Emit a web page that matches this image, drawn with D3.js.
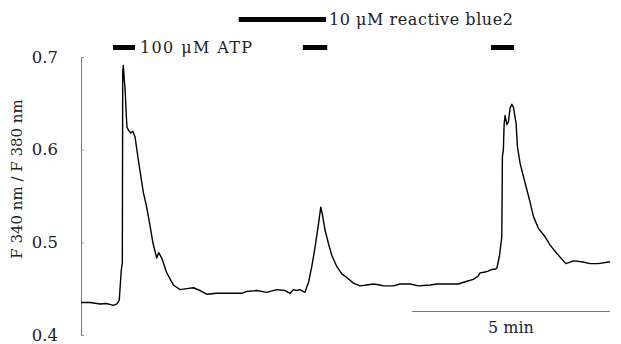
<!DOCTYPE html>
<html>
<head>
<meta charset="utf-8">
<script src="https://cdn.jsdelivr.net/npm/d3@7"></script>
<style>
  body { margin: 0; background: white; }
  svg { display: block; }
  text { font-family: "DejaVu Serif", "Liberation Serif", serif; fill: #222; }
</style>
</head>
<body>
<div id="chart"></div>
<script>
"use strict";

// trace: time (s) and F340/F380 ratio
var times = [0, 14, 29, 38, 44, 48.5, 54.5, 58, 61, 62.6, 63.2, 64.1, 65.6, 66.7, 68.6, 69.7, 72, 75.3, 78.3, 81.8,
    86.4, 94.4, 99.5, 104.5, 109.1, 114.7, 117.7, 122.3, 129.9, 139.9, 150, 160.2, 170.2, 180.3, 190.5, 205.6,
    225.8, 243.5, 251.1, 266.2, 281.4, 296.5, 309.1, 316.7, 321.7, 326.8, 331.8, 336.4, 339.4, 342, 344.4,
    349.6, 354.6, 359.6, 363.2, 365.7, 369.7, 374.7, 379.9, 387.4, 395, 402.6, 412.6, 422.7, 432.9, 442.9,
    453, 458, 473.2, 483.3, 498.5, 511, 528.8, 538.9, 571.7, 584.4, 594.4, 602, 604.5, 612.1, 616.7, 619.7,
    624.2, 627.3, 629.8, 633.8, 637.4, 638.3, 639.8, 640.9, 642.4, 645, 647.4, 650, 652.6, 655, 659.1, 661.1,
    665.2, 672.7, 679.3, 685.3, 692.9, 703, 710.6, 720.8, 734.4, 745.9, 758.6, 771.2, 783.8, 801.3];
var ratios = [0.435, 0.435, 0.4335, 0.434, 0.433, 0.432, 0.4335, 0.438, 0.470, 0.478, 0.684, 0.691, 0.675, 0.667,
    0.637, 0.624, 0.621, 0.618, 0.620, 0.614, 0.591, 0.554, 0.538, 0.518, 0.499, 0.483, 0.489, 0.483, 0.467,
    0.454, 0.449, 0.450, 0.451, 0.448, 0.444, 0.445, 0.445, 0.445, 0.447, 0.448, 0.446, 0.449, 0.448, 0.445,
    0.449, 0.448, 0.449, 0.447, 0.446, 0.452, 0.456, 0.474, 0.495, 0.519, 0.538, 0.530, 0.513, 0.499, 0.486,
    0.474, 0.466, 0.462, 0.456, 0.453, 0.454, 0.455, 0.454, 0.453, 0.453, 0.455, 0.455, 0.453, 0.454, 0.455,
    0.455, 0.458, 0.460, 0.464, 0.467, 0.468, 0.469, 0.470, 0.471, 0.471, 0.472, 0.485, 0.506, 0.592, 0.600,
    0.627, 0.637, 0.627, 0.630, 0.645, 0.649, 0.646, 0.628, 0.603, 0.585, 0.564, 0.546, 0.528, 0.515, 0.506,
    0.497, 0.488, 0.477, 0.480, 0.479, 0.477, 0.477, 0.479];

var yTicks = [0.4, 0.5, 0.6, 0.7];
var atpBars = [[48.5, 81.8], [336, 373], [621, 656]];   // application periods (s)
var rbBar = [239, 371];
var atpLabel = "100 \u03bcM ATP";
var rbLabel = "10 \u03bcM reactive blue2";
var yTitle = "F 340 nm / F 380 nm";
var scaleSeconds = 300, scaleLabel = "5 min";

var width = 621, height = 344;
var margin = {left: 81, top: 57, right: 11, bottom: 9};

var svg = d3.select("#chart").append("svg")
    .attr("width", width)
    .attr("height", height);

var x = d3.scaleLinear()
    .domain([0, 801.3])
    .range([margin.left, width - margin.right]);
var y = d3.scaleLinear()
    .domain([0.4, 0.7])
    .range([height - margin.bottom, margin.top]);

var yAxis = svg.append("g")
    .attr("transform", "translate(" + margin.left + ",0)")
    .call(d3.axisLeft(y).tickValues(yTicks).tickFormat(d3.format(".1f")).tickSize(-3).tickPadding(23));
yAxis.select(".domain").attr("stroke", "#777");
yAxis.selectAll(".tick line").attr("stroke", "#999");
yAxis.selectAll(".tick text")
    .style("font-family", "DejaVu Serif, serif")
    .style("font-size", "16.5px")
    .attr("fill", "#333");

svg.append("text")
    .attr("transform", "translate(22,179) rotate(-90)")
    .attr("text-anchor", "middle")
    .style("font-size", "15px")
    .text(yTitle);

var points = times.map((t, i) => [t, ratios[i]]);
var line = d3.line()
    .x(d => x(d[0]))
    .y(d => y(d[1]));
svg.append("path")
    .datum(points)
    .attr("fill", "none")
    .attr("stroke", "#000")
    .attr("stroke-width", 1.4)
    .attr("stroke-linejoin", "round")
    .attr("d", line);

// stimulus bars
svg.selectAll("rect.atp")
    .data(atpBars)
    .enter().append("rect")
    .attr("class", "atp")
    .attr("x", d => x(d[0]))
    .attr("width", d => x(d[1]) - x(d[0]))
    .attr("y", 45)
    .attr("height", 5)
    .attr("fill", "#000");
svg.append("rect")
    .attr("x", x(rbBar[0]))
    .attr("width", x(rbBar[1]) - x(rbBar[0]))
    .attr("y", 17)
    .attr("height", 5)
    .attr("fill", "#000");

svg.append("text")
    .attr("x", x(atpBars[0][1]) + 5)
    .attr("y", 53)
    .attr("textLength", 112)
    .attr("lengthAdjust", "spacing")
    .style("font-size", "16px")
    .text(atpLabel);
svg.append("text")
    .attr("x", x(rbBar[1]) + 3)
    .attr("y", 25)
    .attr("textLength", 184)
    .attr("lengthAdjust", "spacing")
    .style("font-size", "16px")
    .text(rbLabel);

// time scale bar
var sbEnd = x.domain()[1];
svg.append("line")
    .attr("x1", x(sbEnd - scaleSeconds))
    .attr("x2", x(sbEnd))
    .attr("y1", 311.5)
    .attr("y2", 311.5)
    .attr("stroke", "#777")
    .attr("stroke-width", 1);
svg.append("text")
    .attr("x", (x(sbEnd - scaleSeconds) + x(sbEnd)) / 2)
    .attr("y", 333)
    .attr("text-anchor", "middle")
    .style("font-size", "16px")
    .text(scaleLabel);
</script>
</body>
</html>
